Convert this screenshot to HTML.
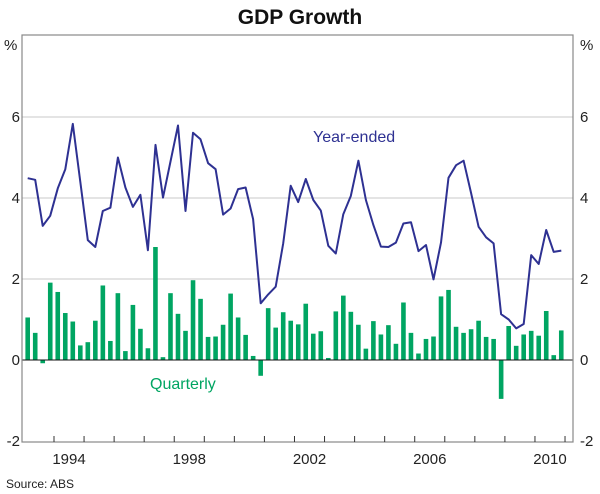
<!DOCTYPE html>
<html><head><meta charset="utf-8"><style>
body{margin:0;background:#fff;width:600px;height:494px;overflow:hidden}
svg{display:block;font-family:"Liberation Sans",Arial,sans-serif}
</style></head><body>
<svg id="chart" width="600" height="494">
<text x="300" y="24" text-anchor="middle" font-size="21" font-weight="bold" fill="#111">GDP Growth</text>
<text x="4" y="50" font-size="15" fill="#222">%</text>
<text x="580" y="50" font-size="15" fill="#222">%</text>
<g id="grid"></g>
<g id="bars"></g>
<g id="line"></g>
<g id="axes"></g>
<text x="313" y="142" font-size="16" fill="#2e3192">Year-ended</text>
<text x="150" y="389" font-size="16" fill="#00a562">Quarterly</text>
<text x="6" y="488" font-size="12" fill="#222">Source: ABS</text>
</svg>
<script>
const quarterly=[1.05,0.67,-0.08,1.91,1.68,1.16,0.95,0.36,0.44,0.97,1.84,0.47,1.65,0.22,1.36,0.77,0.29,2.79,0.07,1.65,1.14,0.72,1.97,1.51,0.57,0.58,0.87,1.64,1.05,0.62,0.10,-0.39,1.28,0.80,1.18,0.97,0.88,1.39,0.65,0.71,0.05,1.20,1.59,1.19,0.87,0.28,0.96,0.63,0.86,0.40,1.42,0.67,0.16,0.52,0.58,1.57,1.73,0.82,0.67,0.76,0.97,0.57,0.52,-0.96,0.84,0.35,0.63,0.72,0.60,1.21,0.12,0.73];
const yearEnded=[4.49,4.45,3.31,3.56,4.24,4.71,5.83,4.40,2.96,2.79,3.68,3.76,5.00,4.26,3.78,4.08,2.71,5.31,4.01,4.90,5.79,3.68,5.61,5.45,4.86,4.71,3.59,3.74,4.22,4.26,3.48,1.40,1.62,1.81,2.88,4.30,3.90,4.47,3.95,3.69,2.82,2.63,3.60,4.05,4.92,3.95,3.33,2.80,2.79,2.90,3.37,3.40,2.69,2.84,1.99,2.90,4.50,4.81,4.92,4.12,3.29,3.03,2.88,1.13,1.00,0.78,0.89,2.59,2.37,3.21,2.67,2.70];
const yTicks=[-2,0,2,4,6];
const yearLabels=[1994,1998,2002,2006,2010];
const startYear=1993;
const NS="http://www.w3.org/2000/svg";
const L=22,R=573,T=35,B=442;
function xYear(t){return 54+(t-1994)*30.06;}
function xq(i){return xYear(startYear+(i+0.5)/4);}
function y(v){return 360-v*40.5;}
function mk(tag,attrs,parent){const e=document.createElementNS(NS,tag);for(const k in attrs)e.setAttribute(k,attrs[k]);parent.appendChild(e);return e;}
const grid=document.getElementById('grid'),bars=document.getElementById('bars'),line=document.getElementById('line'),axes=document.getElementById('axes');
yTicks.forEach(v=>{
  if(v!==0&&v!==-2){const g=mk('line',{x1:L,x2:R,y1:y(v),y2:y(v),stroke:'#c8c8c8','stroke-width':1},grid);
  
  }
  const a=mk('text',{x:20,y:y(v)+5,'text-anchor':'end','font-size':15,fill:'#222'},axes);a.textContent=v;
  
  
  const b=mk('text',{x:580,y:y(v)+5,'font-size':15,fill:'#222'},axes);b.textContent=v;
  
  
});
quarterly.forEach((v,i)=>{
  const x=xq(i);const r=mk('rect',{x:x-2.3,width:4.6,y:Math.min(y(v),y(0)),height:Math.abs(y(v)-y(0)),fill:'#00a562'},bars);
  
  
});
const zl=mk('line',{x1:L,x2:R,y1:y(0),y2:y(0),stroke:'#111','stroke-width':1},axes);


const p=mk('polyline',{points:yearEnded.map((v,i)=>xq(i).toFixed(1)+','+y(v).toFixed(1)).join(' '),fill:'none',stroke:'#2e3192','stroke-width':2,'stroke-linejoin':'round'},line);


const fr=mk('rect',{x:L,y:T,width:R-L,height:B-T,fill:'none',stroke:'#888','stroke-width':1.2},axes);


for(let yr=1994;yr<=2011;yr++){
  const t=mk('line',{x1:xYear(yr),x2:xYear(yr),y1:B,y2:B-6,stroke:'#333','stroke-width':1},axes);
  
  
}
yearLabels.forEach(yr=>{
  const t=mk('text',{x:xYear(yr+0.5),y:B+22,'text-anchor':'middle','font-size':15,fill:'#222'},axes);t.textContent=yr;
  
  
});
</script>
</body></html>
